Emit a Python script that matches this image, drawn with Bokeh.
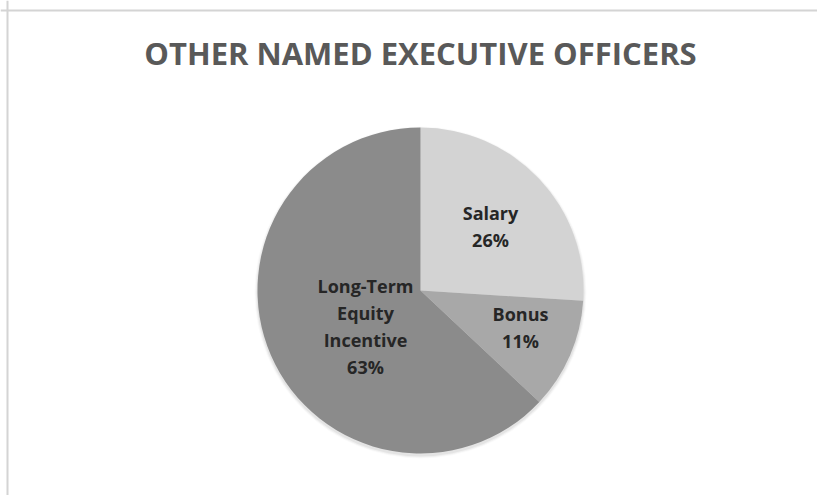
import math
from bokeh.plotting import figure
from bokeh.models import Range1d, ColumnDataSource, Span
from bokeh.core.properties import value
from bokeh.embed import file_html
from bokeh.resources import INLINE

title_text = "OTHER NAMED EXECUTIVE OFFICERS"
categories = ["Salary", "Bonus", "Long-Term\nEquity\nIncentive"]
shares = [26, 11, 63]
colors = ["#d3d3d3", "#a8a8a8", "#8b8b8b"]
# label offsets from pie centre (pixels)
label_dx = [70, 100, -55]
label_dy = [64, -37, -36]

W, H = 817, 495
cx, cy, r = 420, 205, 163

p = figure(width=W, height=H, output_backend="svg", toolbar_location=None,
           x_range=Range1d(0, W), y_range=Range1d(0, H), min_border=0)
p.axis.visible = False
p.grid.visible = False
p.outline_line_color = None
p.background_fill_color = "white"

# frame lines (left and top only visible in reference)
p.add_layout(Span(location=7, dimension="height", line_color="#d4d4d4", line_width=2))
p.add_layout(Span(location=H - 10, dimension="width", line_color="#d4d4d4", line_width=2))

total = sum(shares)
starts, ends, lx, ly, texts = [], [], [], [], []
ang = math.pi / 2
for cat, s, dx, dy in zip(categories, shares, label_dx, label_dy):
    span = 2 * math.pi * s / total
    end = ang
    start = ang - span
    starts.append(start)
    ends.append(end)
    lx.append(cx + dx)
    ly.append(cy + dy)
    texts.append(f"{cat}\n{s}%")
    ang = start

# soft shadow
for i, a in enumerate([0.05, 0.035, 0.02]):
    p.circle(x=[cx], y=[cy - 2], radius=r + 1 + i, fill_color="black", fill_alpha=a, line_color=None)

src = ColumnDataSource(dict(start=starts, end=ends, color=colors, x=[cx]*3, y=[cy]*3))
p.wedge(x="x", y="y", radius=r, start_angle="start", end_angle="end",
        fill_color="color", line_color=None, source=src)

lsrc = ColumnDataSource(dict(x=lx, y=ly, t=texts))
p.text(x="x", y="y", text="t", source=lsrc, text_align="center", text_baseline="middle",
       text_font=value("Open Sans"), text_font_style="bold", text_font_size="18px",
       text_color="#262626", text_line_height=1.12)

p.text(x=[cx], y=[H - 52], text=[title_text], text_align="center", text_baseline="middle",
       text_font=value("Open Sans"), text_font_style="bold", text_font_size="31px",
       text_color="#595959")

open("out.html", "w").write(file_html(p, INLINE))
